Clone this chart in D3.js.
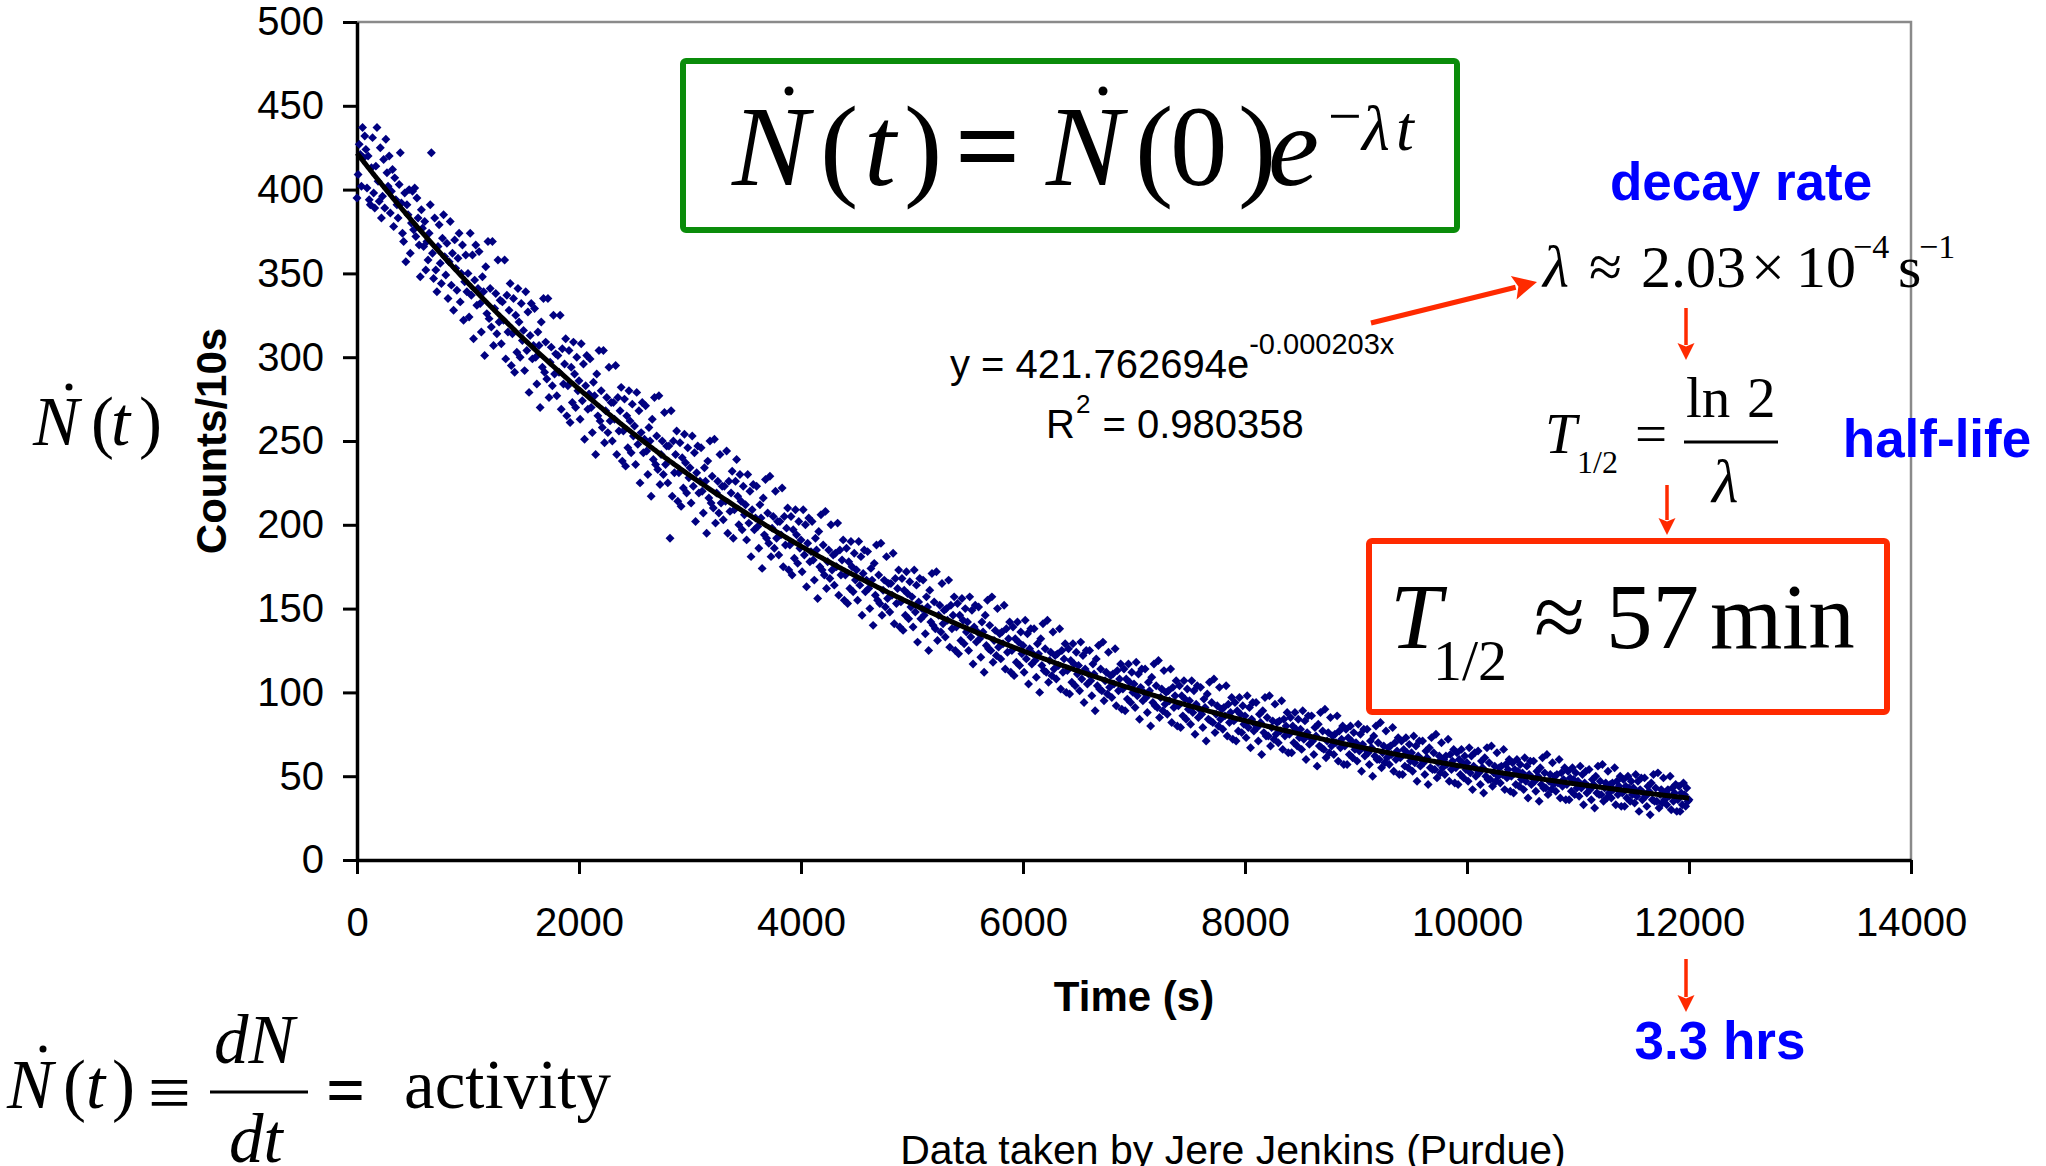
<!DOCTYPE html>
<html>
<head>
<meta charset="utf-8">
<script src="https://cdn.jsdelivr.net/npm/d3@7"></script>
<style>
  html, body { margin: 0; padding: 0; background: #fff; }
  svg { display: block; }
  text { white-space: pre; }
</style>
</head>
<body>
<svg id="chart" width="2046" height="1166"></svg>
<script>
// Counts per 10 s window, one array per 2000 s of running time.
const sampleInterval = 10;
const counts0000 = [
  395,409,427,421,402,437,419,432,424,401, 420,394,391,413,431,398,389,414,437,405,
  393,425,383,396,418,389,430,410,402,420, 386,399,412,378,407,394,391,383,403,422,
  392,374,369,398,357,391,385,400,362,380, 399,376,401,372,395,383,367,348,388,377,
  366,381,352,369,358,374,391,422,362,347, 383,352,339,366,379,356,344,371,385,360,
  349,368,335,357,381,343,362,328,370,353, 340,359,374,333,350,367,322,345,361,339,
  350,324,374,337,361,311,346,367,331,341, 363,332,315,348,339,301,354,326,369,323,
  341,318,369,307,329,338,314,358,321,334, 308,333,322,358,299,337,315,328,344,295,
  314,335,291,325,303,341,321,300,332,310, 316,292,339,304,327,279,313,332,299,307,
  329,300,284,315,307,270,321,294,335,291, 309,287,335,276,297,306,283,325,290,302,
  277,301,291,325,269,305,284,296,311,265, 283,304,261,294,273,309,290,270,300,280
];
const counts2000 = [
  286,263,308,274,296,251,283,301,269,278, 299,270,255,285,277,242,290,265,304,262,
  280,258,304,249,268,276,255,294,262,273, 250,273,263,295,242,276,256,268,282,238,
  256,275,235,265,246,280,262,243,272,253, 259,236,279,248,268,225,255,273,243,251,
  271,244,230,258,250,217,263,239,276,236, 253,233,277,224,242,250,230,267,236,247,
  225,247,192,268,217,250,231,242,256,214, 231,249,211,240,222,254,237,219,246,228,
  234,213,253,223,243,202,231,247,219,226, 246,220,207,234,226,195,238,216,250,213,
  229,210,251,201,219,226,207,242,213,223, 203,223,214,244,195,226,208,219,232,192,
  209,226,239,217,200,230,214,197,223,206, 212,191,230,201,220,181,209,224,197,204,
  223,199,186,212,204,174,216,194,227,192, 207,189,229,181,198,205,186,220,192,202,
  182,202,194,222,175,205,188,198,210,173, 188,205,170,197,180,209,194,177,202,186
];
const counts4000 = [
  191,172,209,182,200,163,189,204,178,184, 202,179,167,192,185,156,196,175,206,173,
  188,170,208,162,178,185,168,200,173,182, 164,183,175,201,158,185,170,179,191,155,
  170,186,153,178,162,190,175,160,183,167, 173,155,190,164,181,146,171,185,160,167,
  184,162,150,174,167,140,177,158,188,155, 170,153,189,146,161,167,151,181,156,165,
  148,165,158,183,141,168,153,162,173,139, 154,168,137,161,146,172,159,144,166,151,
  157,139,173,148,164,130,154,168,144,150, 167,146,135,157,151,125,161,142,171,140,
  154,138,172,131,146,152,136,165,141,149, 133,150,143,167,127,152,138,146,157,125,
  139,153,123,146,131,156,143,129,150,136, 142,125,157,133,149,117,139,152,130,136,
  151,132,121,142,136,112,146,128,155,126, 140,125,157,118,131,137,122,150,127,135,
  120,136,129,152,114,138,124,132,142,112, 125,139,110,132,118,142,130,116,136,123
];
const counts6000 = [
  128,112,143,120,135,105,126,138,117,123, 138,119,109,129,123,100,132,116,141,113,
  126,112,143,106,119,124,110,136,114,122, 108,123,116,138,102,125,112,120,129,100,
  113,126,99,119,106,129,117,104,124,111, 116,101,130,108,122,94,114,125,105,111,
  125,107,98,117,111,89,120,104,128,102, 114,101,130,95,107,112,99,124,103,110,
  97,111,105,126,92,113,101,108,117,90, 102,114,89,108,96,117,106,94,112,100,
  105,91,118,98,111,84,103,114,95,100, 114,97,88,106,101,80,109,94,117,92,
  104,91,119,85,97,102,89,113,93,100, 87,101,95,114,82,103,91,98,107,80,
  92,104,79,98,86,107,96,84,102,90, 95,81,107,88,101,75,93,104,85,90,
  103,87,79,96,91,71,99,84,106,83, 94,82,108,76,87,92,80,103,84,90,
  78,91,86,104,74,93,82,88,97,72, 83,94,71,89,77,97,87,76,92,81
];
const counts8000 = [
  86,73,98,79,91,67,84,94,77,81, 94,79,71,87,82,63,89,76,97,74,
  85,74,98,68,79,83,72,93,75,82, 70,83,77,95,66,84,74,80,88,64,
  75,85,64,80,70,88,78,68,84,73, 78,66,89,72,83,60,76,86,69,73,
  86,71,63,79,74,56,81,68,88,67, 77,66,90,61,71,76,64,85,68,74,
  63,75,70,86,59,77,67,72,80,57, 68,78,57,73,63,80,71,61,76,66,
  70,59,81,65,75,53,69,78,62,66, 78,64,57,71,67,50,74,62,80,60,
  70,60,82,55,64,68,58,77,61,67, 57,68,63,79,53,70,60,65,73,51,
  61,71,51,66,56,73,64,55,69,59, 64,53,74,58,68,47,62,71,56,60,
  71,58,51,65,61,45,67,55,73,54, 64,54,75,49,58,62,52,70,55,60,
  51,62,57,72,47,63,54,59,66,46, 55,64,45,60,51,66,58,49,62,54
];
const counts10000 = [
  58,47,67,52,62,42,56,64,50,54, 65,52,45,59,55,40,61,50,67,48,
  58,48,68,44,52,56,47,64,50,55, 46,56,51,66,42,57,49,54,60,41,
  50,58,40,54,45,60,53,44,57,48, 52,42,61,47,56,37,51,59,45,49,
  59,47,41,53,50,35,55,45,61,43, 52,43,63,39,47,51,42,58,45,50,
  41,51,46,60,37,52,44,48,55,36, 45,53,36,49,41,55,48,39,52,43,
  47,38,56,43,51,33,46,53,40,44, 54,42,36,48,45,31,50,40,56,39,
  47,39,57,35,43,46,37,53,40,45, 37,46,42,55,33,47,39,44,50,32,
  40,48,32,44,37,50,43,35,47,39, 43,34,51,38,47,29,42,49,36,40,
  49,38,32,44,41,27,46,36,51,35, 43,35,52,31,39,42,34,49,36,40,
  33,42,38,50,30,43,35,40,45,29, 36,44,29,40,33,46,39,32,43,35,
  36
];
const segmentStarts = [0, 2000, 4000, 6000, 8000, 10000];

// Exponential trendline parameters (as printed on the chart).
const fitAmplitude = 421.762694;
const fitRate = 0.000203;
const fitR2 = 0.980358;

const xTicks = [0, 2000, 4000, 6000, 8000, 10000, 12000, 14000];
const yTicks = [0, 50, 100, 150, 200, 250, 300, 350, 400, 450, 500];

// ---------------------------------------------------------------
const segments = [counts0000, counts2000, counts4000, counts6000, counts8000, counts10000];
const points = [];
segments.forEach((arr, s) => {
  arr.forEach((v, i) => points.push({ t: segmentStarts[s] + i * sampleInterval, n: v }));
});

const sans = '"Liberation Sans", Arial, Helvetica, sans-serif';
const serif = '"Liberation Serif", "Times New Roman", "DejaVu Serif", serif';
const RED = "#ff2a00", BLUE = "#0000ff", GREEN = "#0a8c0a", NAVY = "#000080";

const svg = d3.select("#chart");
const plot = { left: 357, right: 1911, top: 22, bottom: 860 };

const x = d3.scaleLinear().domain([0, 14000]).range([plot.left, plot.right]);
const y = d3.scaleLinear().domain([0, 500]).range([plot.bottom, plot.top]);

// Plot-area frame (top and right edges in grey)
svg.append("path")
  .attr("d", `M${plot.left},${plot.top}H${plot.right}V${plot.bottom}`)
  .attr("fill", "none").attr("stroke", "#8a8a8a").attr("stroke-width", 2.5);

// Axes
const xAxis = svg.append("g")
  .attr("transform", `translate(0,${plot.bottom})`)
  .call(d3.axisBottom(x).tickValues(xTicks).tickFormat(d3.format("d"))
    .tickSize(14).tickSizeOuter(0).tickPadding(34));
const yAxis = svg.append("g")
  .attr("transform", `translate(${plot.left},0)`)
  .call(d3.axisLeft(y).tickValues(yTicks).tickFormat(d3.format("d"))
    .tickSize(14).tickSizeOuter(0).tickPadding(19));

[xAxis, yAxis].forEach(g => {
  g.select(".domain").attr("stroke", "#000").attr("stroke-width", 3.5);
  g.selectAll(".tick line").attr("stroke", "#000").attr("stroke-width", 3);
  g.selectAll(".tick text").attr("fill", "#000")
    .style("font-family", sans).style("font-size", "40px");
});

// Axis titles
svg.append("text")
  .attr("x", (plot.left + plot.right) / 2).attr("y", 1011)
  .attr("text-anchor", "middle")
  .style("font-family", sans).style("font-size", "42px").style("font-weight", "bold")
  .text("Time (s)");
svg.append("text")
  .attr("transform", `translate(226,${(plot.top + plot.bottom) / 2}) rotate(-90)`)
  .attr("text-anchor", "middle")
  .style("font-family", sans).style("font-size", "42px").style("font-weight", "bold")
  .text("Counts/10s");

// Data points as small diamonds
const diamond = {
  draw(ctx, size) {
    const r = Math.sqrt(size) / 2;
    ctx.moveTo(0, -r); ctx.lineTo(r, 0); ctx.lineTo(0, r); ctx.lineTo(-r, 0); ctx.closePath();
  }
};
const sym = d3.symbol().type(diamond).size(80);
svg.append("g").selectAll("path").data(points).join("path")
  .attr("d", sym)
  .attr("transform", d => `translate(${x(d.t)},${y(d.n)})`)
  .attr("fill", NAVY);

// Exponential fit line
const fitLine = d3.line()
  .x(d => x(d.t))
  .y(d => y(fitAmplitude * Math.exp(-fitRate * d.t)));
svg.append("path").datum(points)
  .attr("d", fitLine)
  .attr("fill", "none").attr("stroke", "#000").attr("stroke-width", 5)
  .attr("stroke-linejoin", "round");

// ---------------------------------------------------------------
// Text helpers
function t(str, xp, yp, size, o = {}) {
  return svg.append("text")
    .attr("x", xp).attr("y", yp)
    .attr("text-anchor", o.anchor || "start")
    .style("font-family", o.family || serif)
    .style("font-size", size + "px")
    .style("font-style", o.italic ? "italic" : "normal")
    .style("font-weight", o.bold ? "bold" : "normal")
    .attr("fill", o.fill || "#000")
    .text(str);
}
function dot(cx, cy, r) {
  svg.append("circle").attr("cx", cx).attr("cy", cy).attr("r", r).attr("fill", "#000");
}
function arrow(x1, y1, x2, y2, w, hl, hw, color) {
  const dx = x2 - x1, dy = y2 - y1, L = Math.hypot(dx, dy);
  const ux = dx / L, uy = dy / L, px = -uy, py = ux;
  const bx = x2 - ux * hl, by = y2 - uy * hl;
  svg.append("line").attr("x1", x1).attr("y1", y1).attr("x2", bx + ux * 2).attr("y2", by + uy * 2)
    .attr("stroke", color).attr("stroke-width", w);
  svg.append("path")
    .attr("d", `M${x2},${y2}L${bx + px * hw / 2},${by + py * hw / 2}L${bx + ux * hl * 0.2},${by + uy * hl * 0.2}L${bx - px * hw / 2},${by - py * hw / 2}Z`)
    .attr("fill", color);
}

// Green box: activity law
svg.append("rect").attr("x", 683).attr("y", 61).attr("width", 774).attr("height", 169)
  .attr("rx", 3).attr("fill", "none").attr("stroke", GREEN).attr("stroke-width", 6);
{
  const b = 185, fs = 115;
  t("N", 732, b, fs, { italic: true });
  dot(789, 91, 4.5);
  t("(", 820, b, fs);
  t("t", 864, b, fs, { italic: true });
  t(")", 904, b, fs);
  t("=", 955, b, fs, { bold: true });
  t("N", 1046, b, fs, { italic: true });
  dot(1103, 91, 4.5);
  t("(", 1135, b, fs);
  t("0", 1170, b, fs);
  t(")", 1238, b, fs);
  t("e", 1268, b, fs, { italic: true });
  t("\u2212", 1328, 136, 60);
  t("\u03bb", 1362, 150, 64, { italic: true });
  t("t", 1396, 150, 64, { italic: true });
}

// Left axis quantity label
{
  const b = 445, fs = 69;
  t("N", 33, b, fs, { italic: true });
  dot(69, 387, 3.5);
  t("(", 91, b, fs);
  t("t", 111, b, fs, { italic: true });
  t(")", 139, b, fs);
}

// Definition of activity
{
  const b = 1108, fs = 69;
  t("N", 7, b, fs, { italic: true });
  dot(43, 1049, 3.5);
  t("(", 63, b, fs);
  t("t", 86, b, fs, { italic: true });
  t(")", 112, b, fs);
  t("\u2261", 148, 1118, 76);
  t("dN", 214, 1063, fs, { italic: true });
  svg.append("line").attr("x1", 210).attr("x2", 308).attr("y1", 1092).attr("y2", 1092)
    .attr("stroke", "#000").attr("stroke-width", 3);
  t("dt", 229, 1162, fs, { italic: true });
  t("=", 326, 1114, fs, { bold: true });
  t("activity", 404, b, fs);
}

// Trendline equation and R²
{
  const main = t("y = 421.762694e", 950, 378, 40, { family: sans });
  const w = main.node().getComputedTextLength();
  t("-" + fitRate.toFixed(6) + "x", 950 + w, 354, 29, { family: sans });
  const r = t("R", 1046, 438, 40, { family: sans });
  const rw = r.node().getComputedTextLength();
  const s2 = t("2", 1046 + rw + 1, 413, 26, { family: sans });
  const sw = s2.node().getComputedTextLength();
  t(" = " + fitR2, 1046 + rw + sw + 2, 438, 40, { family: sans });
}

// Decay-rate annotation
t("decay rate", 1741, 200, 53, { family: sans, bold: true, fill: BLUE, anchor: "middle" });
{
  const b = 287, fs = 60, sb = 258, ss = 34;
  t("\u03bb", 1543, b, fs, { italic: true });
  t("\u2248", 1589, b, fs);
  t("2.03", 1641, b, fs);
  t("\u00d7", 1751, b, fs);
  t("10", 1796, b, fs);
  t("\u22124", 1853, sb, ss);
  t("s", 1898, b, fs);
  t("\u22121", 1919, sb, ss);
}
arrow(1371, 323, 1537, 282, 5, 24, 24, RED);
arrow(1686, 308, 1686, 360, 3.5, 17, 17, RED);

// Half-life relation
{
  const fs = 57;
  t("T", 1545, 453, fs, { italic: true });
  t("1/2", 1577, 473, 32);
  t("=", 1635, 453, fs);
  t("ln", 1686, 417, fs);
  t("2", 1747, 417, fs);
  svg.append("line").attr("x1", 1684).attr("x2", 1778).attr("y1", 442).attr("y2", 442)
    .attr("stroke", "#000").attr("stroke-width", 3);
  t("\u03bb", 1712, 502, fs + 4, { italic: true });
}
t("half-life", 1937, 457, 53, { family: sans, bold: true, fill: BLUE, anchor: "middle" });
arrow(1667, 485, 1667, 535, 3.5, 17, 17, RED);

// Red box: result
svg.append("rect").attr("x", 1369).attr("y", 541).attr("width", 518).attr("height", 171)
  .attr("rx", 3).attr("fill", "none").attr("stroke", RED).attr("stroke-width", 6);
{
  const b = 648, fs = 93;
  t("T", 1390, b, fs, { italic: true });
  t("1/2", 1433, 680, 58);
  t("\u2248", 1534, b, fs);
  t("57", 1606, b, fs);
  t("min", 1710, b, fs);
}

// Duration of the run
arrow(1686, 959, 1686, 1012, 3.5, 17, 17, RED);
t("3.3 hrs", 1720, 1059, 53, { family: sans, bold: true, fill: BLUE, anchor: "middle" });

// Credit line
t("Data taken by Jere Jenkins (Purdue)", 1233, 1164, 41, { family: sans, anchor: "middle" });
</script>
</body>
</html>
